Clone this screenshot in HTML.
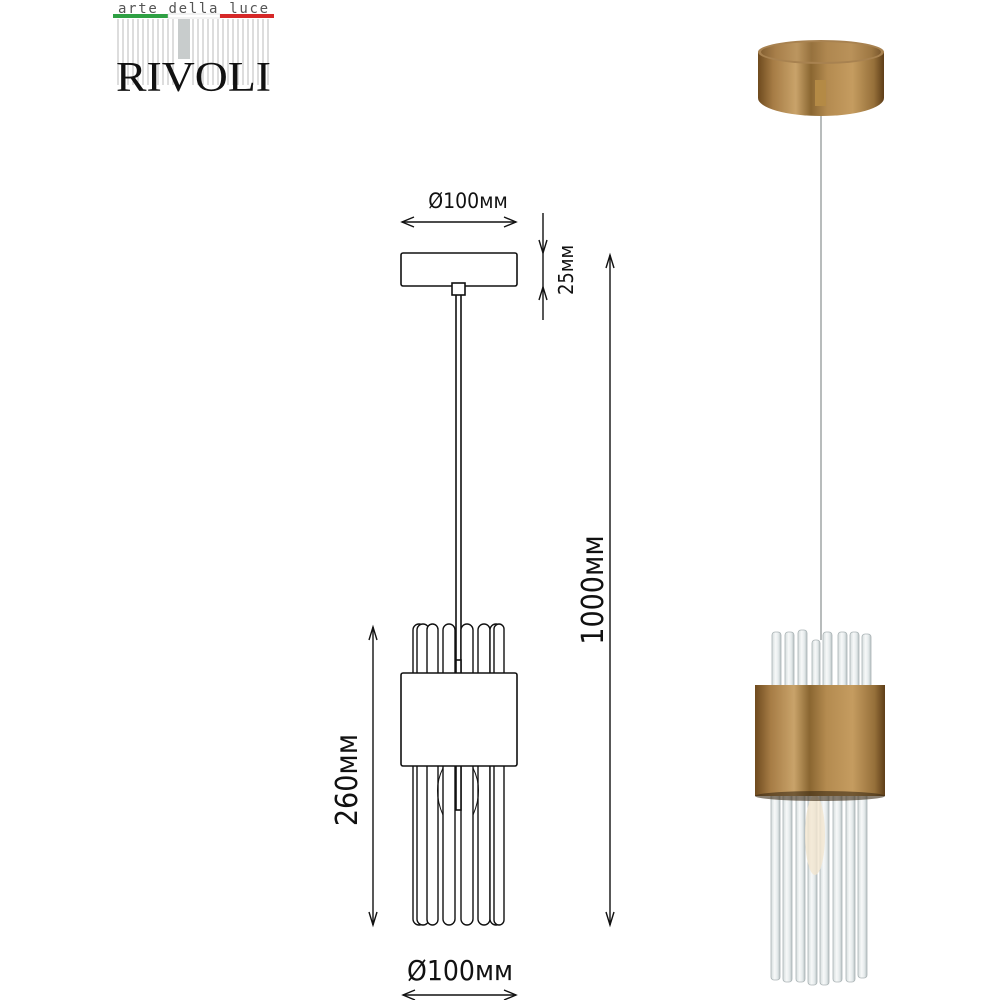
<!DOCTYPE html>
<html><head><meta charset="utf-8"><style>
html,body{margin:0;padding:0;background:#fff;width:1000px;height:1000px;overflow:hidden}
svg{display:block}
text{font-family:"DejaVu Sans Condensed","DejaVu Sans","Liberation Sans",sans-serif}
</style></head><body>
<svg width="1000" height="1000" viewBox="0 0 1000 1000" xmlns="http://www.w3.org/2000/svg">
<defs>
<linearGradient id="gold" x1="0" x2="1">
<stop offset="0" stop-color="#6e4a1e"/><stop offset="0.12" stop-color="#a67c45"/><stop offset="0.3" stop-color="#c9a36a"/>
<stop offset="0.42" stop-color="#8a6631"/><stop offset="0.55" stop-color="#b48b50"/><stop offset="0.75" stop-color="#c59c60"/>
<stop offset="0.92" stop-color="#96703a"/><stop offset="1" stop-color="#5e3e18"/></linearGradient>
<linearGradient id="glass" x1="0" x2="1">
<stop offset="0" stop-color="#d5dcdd"/><stop offset="0.4" stop-color="#f7f9f9"/><stop offset="0.7" stop-color="#e6ebec"/><stop offset="1" stop-color="#b9c2c4"/></linearGradient>
</defs>

<!-- Logo -->
<text x="118" y="13" font-size="14" fill="#555" textLength="150" lengthAdjust="spacing" style="font-family:'DejaVu Sans Mono',monospace">arte  della  luce</text>
<rect x="113" y="14" width="55" height="4" fill="#2ea043"/>
<rect x="168" y="14" width="52" height="4" fill="#fff" stroke="#ccc" stroke-width="0.5"/>
<rect x="220" y="14" width="54" height="4" fill="#d62828"/>
<g stroke="#bbb" stroke-width="1">
<line x1="118" y1="19" x2="118" y2="85"/><line x1="123" y1="19" x2="123" y2="85"/><line x1="128" y1="19" x2="128" y2="85"/><line x1="133" y1="19" x2="133" y2="85"/><line x1="138" y1="19" x2="138" y2="85"/><line x1="143" y1="19" x2="143" y2="85"/><line x1="148" y1="19" x2="148" y2="85"/><line x1="153" y1="19" x2="153" y2="85"/><line x1="158" y1="19" x2="158" y2="85"/><line x1="163" y1="19" x2="163" y2="85"/><line x1="168" y1="19" x2="168" y2="85"/><line x1="173" y1="19" x2="173" y2="85"/><line x1="193" y1="19" x2="193" y2="85"/><line x1="198" y1="19" x2="198" y2="85"/><line x1="203" y1="19" x2="203" y2="85"/><line x1="208" y1="19" x2="208" y2="85"/><line x1="213" y1="19" x2="213" y2="85"/><line x1="218" y1="19" x2="218" y2="85"/><line x1="223" y1="19" x2="223" y2="85"/><line x1="228" y1="19" x2="228" y2="85"/><line x1="233" y1="19" x2="233" y2="85"/><line x1="238" y1="19" x2="238" y2="85"/><line x1="243" y1="19" x2="243" y2="85"/><line x1="248" y1="19" x2="248" y2="85"/><line x1="253" y1="19" x2="253" y2="85"/><line x1="258" y1="19" x2="258" y2="85"/><line x1="263" y1="19" x2="263" y2="85"/><line x1="268" y1="19" x2="268" y2="85"/>
</g>
<rect x="178" y="19" width="12" height="40" fill="#c8cccc"/>
<text x="116" y="91" font-size="42" fill="#111" textLength="155" lengthAdjust="spacingAndGlyphs" style="font-family:'Liberation Serif',serif">RIVOLI</text>

<!-- Drawing -->
<g stroke="#111" stroke-width="1.6" fill="#fff">
<rect x="401" y="253" width="116" height="33" rx="2"/>
<rect x="452" y="283" width="13" height="12"/>
<line x1="456" y1="295" x2="456" y2="662"/><line x1="461" y1="295" x2="461" y2="662"/>
<g stroke-width="1.4">
<rect x="413" y="624" width="12" height="301" rx="6"/>
<rect x="417" y="624" width="12" height="301" rx="6"/>
<rect x="427" y="624" width="11" height="301" rx="5.5"/>
<rect x="443" y="624" width="12" height="301" rx="6"/>
<rect x="461" y="624" width="12" height="301" rx="6"/>
<rect x="478" y="624" width="12" height="301" rx="6"/>
<rect x="490" y="624" width="12" height="301" rx="6"/>
<rect x="494" y="624" width="10" height="301" rx="5"/>
</g>
<rect x="456" y="660" width="5" height="150" fill="#fff"/>
<path d="M443 768 Q432 790 443 815 M473 768 Q484 790 473 815" fill="none" stroke-width="1"/>
<rect x="401" y="673" width="116" height="93" rx="2"/>
</g>
<!-- dims -->
<g stroke="#111" stroke-width="1.4" fill="none">
<line x1="402" y1="222" x2="516" y2="222"/>
<path d="M414 217 L402 222 L414 227 M504 217 L516 222 L504 227"/>
<line x1="543" y1="213" x2="543" y2="320"/>
<path d="M539 240 L543 253 L547 240 M539 300 L543 287 L547 300"/>
<line x1="610" y1="255" x2="610" y2="925"/>
<path d="M606 268 L610 255 L614 268 M606 912 L610 925 L614 912"/>
<line x1="373" y1="627" x2="373" y2="925"/>
<path d="M369 640 L373 627 L377 640 M369 912 L373 925 L377 912"/>
<line x1="403" y1="995" x2="516" y2="995"/>
<path d="M415 990 L403 995 L415 1000 M504 990 L516 995 L504 1000"/>
</g>
<g fill="#111">
<text x="468" y="208" font-size="21" text-anchor="middle">Ø100мм</text>
<text x="460" y="980" font-size="28" text-anchor="middle">Ø100мм</text>
<text transform="translate(573 270) rotate(-90)" font-size="20" text-anchor="middle">25мм</text>
<text transform="translate(603 590) rotate(-90)" font-size="30" text-anchor="middle">1000мм</text>
<text transform="translate(357 780) rotate(-90)" font-size="30" text-anchor="middle">260мм</text>
</g>

<!-- Photo -->
<line x1="821" y1="105" x2="821" y2="640" stroke="#b8bcbc" stroke-width="2"/>
<path d="M758 52 L758 98 A63 18 0 0 0 884 98 L884 52 Z" fill="url(#gold)"/>
<ellipse cx="821" cy="52" rx="63" ry="12" fill="#a88250"/>
<ellipse cx="821" cy="52" rx="60" ry="10" fill="url(#gold)" opacity="0.6"/>
<rect x="815" y="80" width="11" height="26" fill="#b48a45"/>
<g fill="url(#glass)" stroke="#aab3b5" stroke-width="0.8">
<rect x="772" y="632" width="9" height="60" rx="3"/><rect x="785" y="632" width="9" height="60" rx="3"/><rect x="798" y="630" width="9" height="60" rx="3"/><rect x="812" y="640" width="8" height="50" rx="3"/><rect x="823" y="632" width="9" height="60" rx="3"/><rect x="838" y="632" width="9" height="60" rx="3"/><rect x="850" y="632" width="9" height="60" rx="3"/><rect x="862" y="634" width="9" height="58" rx="3"/>
<rect x="771" y="790" width="9" height="190" rx="3"/><rect x="783" y="790" width="9" height="192" rx="3"/><rect x="796" y="790" width="9" height="192" rx="3"/><rect x="808" y="790" width="9" height="195" rx="3"/><rect x="820" y="790" width="9" height="195" rx="3"/><rect x="833" y="790" width="9" height="192" rx="3"/><rect x="846" y="790" width="9" height="192" rx="3"/><rect x="858" y="790" width="9" height="188" rx="3"/>
</g>
<ellipse cx="815" cy="835" rx="10" ry="40" fill="#f3e6cf" opacity="0.8"/>
<rect x="755" y="685" width="130" height="111" fill="url(#gold)"/>
<ellipse cx="820" cy="796" rx="65" ry="5" fill="#3a2a14" opacity="0.6"/>
</svg>
</body></html>
